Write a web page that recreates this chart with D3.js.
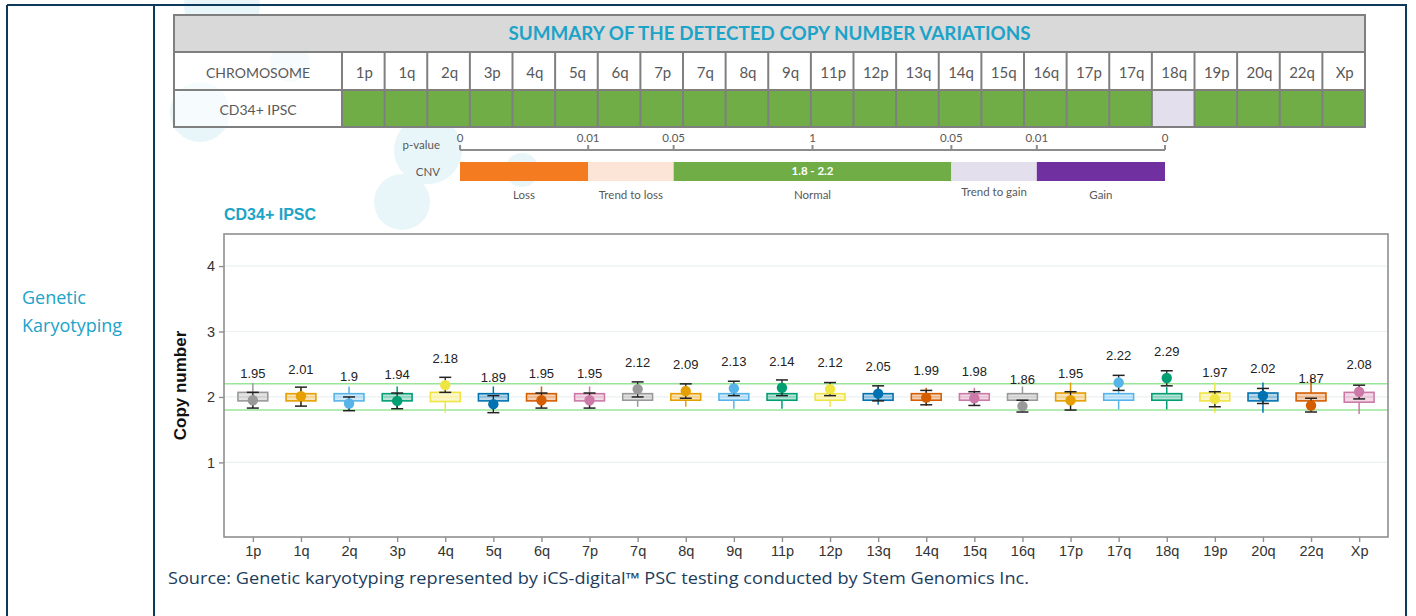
<!DOCTYPE html>
<html><head><meta charset="utf-8">
<script src="https://cdn.jsdelivr.net/npm/d3@7"></script>
<style>body{margin:0;background:#fff;} svg{display:block;}</style>
</head><body><svg id="c" width="1416" height="616"></svg>
<script>
// ---------- DATA ----------
const categories = ["1p","1q","2q","3p","4q","5q","6q","7p","7q","8q","9q","11p","12p","13q","14q","15q","16q","17p","17q","18q","19p","20q","22q","Xp"];
const copyNumber = [1.95,2.01,1.9,1.94,2.18,1.89,1.95,1.95,2.12,2.09,2.13,2.14,2.12,2.05,1.99,1.98,1.86,1.95,2.22,2.29,1.97,2.02,1.87,2.08];
const errLow  = [1.83,1.86,1.79,1.82,2.07,1.76,1.83,1.83,2.00,1.98,2.02,2.02,2.02,1.94,1.88,1.87,1.77,1.80,2.10,2.17,1.85,1.90,1.77,1.97];
const errHigh = [2.07,2.15,2.00,2.06,2.30,2.02,2.06,2.06,2.23,2.20,2.24,2.26,2.22,2.17,2.10,2.08,1.95,2.08,2.33,2.40,2.08,2.13,1.98,2.18];
const boxQ1   = [1.94,1.94,1.94,1.94,1.93,1.94,1.94,1.94,1.95,1.95,1.95,1.95,1.95,1.95,1.95,1.95,1.95,1.94,1.95,1.95,1.94,1.94,1.94,1.92];
const boxMed  = [2.0,2.0,2.0,2.0,2.0,2.0,2.0,2.0,2.0,2.0,2.0,2.0,2.0,2.0,2.0,2.0,2.0,2.0,2.0,2.0,2.0,2.0,2.0,2.0];
const boxQ3   = [2.07,2.05,2.05,2.05,2.07,2.05,2.05,2.05,2.05,2.05,2.05,2.05,2.05,2.05,2.05,2.05,2.05,2.06,2.05,2.05,2.06,2.06,2.06,2.07];
const whiskerLow  = [1.83,1.86,1.80,1.82,1.76,1.80,1.83,1.83,1.85,1.85,1.82,1.82,1.85,1.88,1.86,1.86,1.86,1.80,1.81,1.81,1.76,1.76,1.80,1.74];
const whiskerHigh = [2.21,2.15,2.16,2.16,2.16,2.16,2.16,2.16,2.20,2.15,2.15,2.15,2.15,2.15,2.14,2.14,2.16,2.22,2.15,2.15,2.22,2.22,2.30,2.16];
const cnvStatus = ["Normal","Normal","Normal","Normal","Normal","Normal","Normal","Normal","Normal","Normal","Normal","Normal","Normal","Normal","Normal","Normal","Normal","Normal","Normal","Trend to gain","Normal","Normal","Normal","Normal"];
const yTicks = [1,2,3,4];
const normalRange = [1.8, 2.2];
const pvalueTicks = ["0","0.01","0.05","1","0.05","0.01","0"];
const cnvClasses = ["Loss","Trend to loss","Normal","Trend to gain","Gain"];
const cnvColors  = ["#f47b20","#fce4d6","#70ad47","#e4dfec","#7030a0"];
const cnvWeights = [3,2,6.5,2,3];
const palette = ["#999999","#E69F00","#56B4E9","#009E73","#F0E442","#0072B2","#D55E00","#CC79A7"];
const sampleName = "CD34+ IPSC";

// ---------- DRAW ----------
const svg = d3.select("#c");
const teal = "#1ca3c8", navy = "#0d3a5a";
const chartFont = "'Liberation Sans', Arial, sans-serif";
const tblFont = "Lato, 'Open Sans', sans-serif";

// decorative background circles
const deco = [[222,6,38],[200,112,30],[428,150,34],[522,170,17],[402,202,28],[290,62,20]];
svg.append("g").selectAll("circle").data(deco).join("circle")
  .attr("cx",d=>d[0]).attr("cy",d=>d[1]).attr("r",d=>d[2]).attr("fill","#e9f6f9");

// outer frame
const frame = svg.append("g").attr("stroke",navy).attr("stroke-width",2).attr("fill","none");
frame.append("line").attr("x1",7).attr("x2",1407).attr("y1",5).attr("y2",5);
frame.append("line").attr("x1",7).attr("x2",7).attr("y1",5).attr("y2",616);
frame.append("line").attr("x1",154).attr("x2",154).attr("y1",5).attr("y2",616);
frame.append("line").attr("x1",1406).attr("x2",1406).attr("y1",5).attr("y2",616);

svg.append("text").attr("x",22).attr("y",304).attr("fill",teal)
  .style("font-family","'Open Sans', sans-serif").style("font-size","18px").text("Genetic");
svg.append("text").attr("x",22).attr("y",332).attr("fill",teal)
  .style("font-family","'Open Sans', sans-serif").style("font-size","18px").text("Karyotyping");

// ---------- summary table ----------
const T = {x0:174, x1:1365, lab:342, r0:15, r1:52, r2:90, r3:127};
const tb = svg.append("g");
tb.append("rect").attr("x",T.x0).attr("y",T.r0).attr("width",T.x1-T.x0).attr("height",T.r1-T.r0).attr("fill","#d9d9d9");
tb.append("rect").attr("x",T.x0).attr("y",T.r1).attr("width",T.lab-T.x0).attr("height",T.r3-T.r1).attr("fill","#fff").attr("fill-opacity",0.6);
const xb = d3.scaleBand().domain(categories).range([T.lab,T.x1]);
const statusColor = d3.scaleOrdinal().domain(cnvClasses).range(cnvColors);
tb.selectAll("rect.h").data(categories).join("rect").attr("class","h")
  .attr("x",d=>xb(d)).attr("y",T.r1).attr("width",xb.bandwidth()).attr("height",T.r2-T.r1).attr("fill","#fff");
tb.selectAll("rect.s").data(categories).join("rect").attr("class","s")
  .attr("x",d=>xb(d)).attr("y",T.r2).attr("width",xb.bandwidth()).attr("height",T.r3-T.r2)
  .attr("fill",(d,i)=>statusColor(cnvStatus[i]));
const gl = tb.append("g").attr("stroke","#7f7f7f").attr("stroke-width",2);
gl.append("rect").attr("x",T.x0).attr("y",T.r0).attr("width",T.x1-T.x0).attr("height",T.r3-T.r0).attr("fill","none");
[T.r1,T.r2].forEach(y=>gl.append("line").attr("x1",T.x0).attr("x2",T.x1).attr("y1",y).attr("y2",y));
gl.append("line").attr("x1",T.lab).attr("x2",T.lab).attr("y1",T.r1).attr("y2",T.r3);
categories.slice(1).forEach(c=>gl.append("line").attr("x1",xb(c)).attr("x2",xb(c)).attr("y1",T.r1).attr("y2",T.r3));
tb.append("text").attr("x",(T.x0+T.x1)/2).attr("y",40).attr("text-anchor","middle").attr("fill",teal)
  .attr("textLength",522).attr("lengthAdjust","spacingAndGlyphs")
  .style("font-family",tblFont).style("font-weight","bold").style("font-size","18px")
  .text("SUMMARY OF THE DETECTED COPY NUMBER VARIATIONS");
tb.append("text").attr("x",(T.x0+T.lab)/2).attr("y",78).attr("text-anchor","middle").attr("fill","#595959")
  .style("font-family",tblFont).style("font-size","14px").text("CHROMOSOME");
tb.append("text").attr("x",(T.x0+T.lab)/2).attr("y",115).attr("text-anchor","middle").attr("fill","#595959")
  .style("font-family",tblFont).style("font-size","14px").text(sampleName);
tb.selectAll("text.c").data(categories).join("text").attr("class","c")
  .attr("x",d=>xb(d)+xb.bandwidth()/2+1).attr("y",78).attr("text-anchor","middle").attr("fill","#595959")
  .style("font-family",tblFont).style("font-size","15px").text(d=>d);

// ---------- p-value / CNV legend ----------
const L = {x0:460, x1:1165, axisY:150, barY:162, barH:19};
const cum = [0]; cnvWeights.forEach((w,i)=>cum.push(cum[i]+w));
const lx = d3.scaleLinear().domain([0,cum[cum.length-1]]).range([L.x0,L.x1]);
const tickPos = [cum[0],cum[1],cum[2],(cum[2]+cum[3])/2,cum[3],cum[4],cum[5]];
const lg = svg.append("g").style("font-family",tblFont);
lg.append("line").attr("x1",L.x0).attr("x2",L.x1).attr("y1",L.axisY).attr("y2",L.axisY).attr("stroke","#8c8c8c").attr("stroke-width",2);
lg.selectAll("line.t").data(tickPos).join("line").attr("class","t")
  .attr("x1",d=>lx(d)).attr("x2",d=>lx(d)).attr("y1",L.axisY-5).attr("y2",L.axisY).attr("stroke","#8c8c8c").attr("stroke-width",2);
lg.selectAll("text.t").data(tickPos).join("text").attr("class","t")
  .attr("x",d=>lx(d)).attr("y",L.axisY-8).attr("text-anchor","middle").attr("fill","#595959").style("font-size","11.5px")
  .text((d,i)=>pvalueTicks[i]);
lg.selectAll("rect").data(cnvClasses).join("rect")
  .attr("x",(d,i)=>lx(cum[i])).attr("width",(d,i)=>lx(cum[i+1])-lx(cum[i]))
  .attr("y",L.barY).attr("height",L.barH).attr("fill",(d,i)=>cnvColors[i]);
lg.selectAll("text.l").data(cnvClasses).join("text").attr("class","l")
  .attr("x",(d,i)=>lx((cum[i]+cum[i+1])/2)).attr("y",(d,i)=>i===3?196:199).attr("text-anchor","middle")
  .attr("fill","#595959").style("font-size","11.5px").text(d=>d);
lg.append("text").attr("x",lx((cum[2]+cum[3])/2)).attr("y",L.barY+13).attr("text-anchor","middle")
  .attr("fill","#fff").style("font-size","11.5px").style("font-weight","bold").text(normalRange[0]+" - "+normalRange[1]);
lg.append("text").attr("x",440).attr("y",149).attr("text-anchor","end").attr("fill","#595959").style("font-size","11.5px").text("p-value");
lg.append("text").attr("x",440).attr("y",176).attr("text-anchor","end").attr("fill","#595959").style("font-size","11.5px").text("CNV");

// ---------- box plot chart ----------
const P = {l:224, r:1388, t:234, b:537};
const x = d3.scalePoint().domain(categories).range([P.l,P.r]).padding(0.6);
const y = d3.scaleLinear().domain([-0.14,4.49]).range([P.b,P.t]);
const col = (i)=>palette[i % palette.length];
const ch = svg.append("g").style("font-family",chartFont);

ch.append("text").attr("x",P.l).attr("y",220).attr("fill",teal).style("font-size","16px").style("font-weight","bold").text(sampleName);

ch.selectAll("line.grid").data(yTicks).join("line").attr("class","grid")
  .attr("x1",P.l).attr("x2",P.r).attr("y1",d=>y(d)).attr("y2",d=>y(d)).attr("stroke","#ebf1f2").attr("stroke-width",1.2);
ch.selectAll("line.nr").data(normalRange).join("line").attr("class","nr")
  .attr("x1",P.l).attr("x2",P.r).attr("y1",d=>y(d)).attr("y2",d=>y(d)).attr("stroke","#98e698").attr("stroke-width",1.5);

const bw = x.step()*0.62;
const items = categories.map((c,i)=>({c,i}));
const g = ch.selectAll("g.item").data(items).join("g").attr("class","item");
g.append("line").attr("x1",d=>x(d.c)).attr("x2",d=>x(d.c)).attr("y1",d=>y(whiskerLow[d.i])).attr("y2",d=>y(whiskerHigh[d.i]))
  .attr("stroke",d=>col(d.i)).attr("stroke-width",1.5);
g.append("rect").attr("x",d=>x(d.c)-bw/2).attr("width",bw).attr("y",d=>y(boxQ3[d.i])).attr("height",d=>y(boxQ1[d.i])-y(boxQ3[d.i]))
  .attr("fill",d=>d3.interpolateRgb(col(d.i),"#fff")(0.72)).attr("stroke",d=>col(d.i)).attr("stroke-width",1.6);
g.append("line").attr("x1",d=>x(d.c)-bw/2+1).attr("x2",d=>x(d.c)+bw/2-1).attr("y1",d=>y(boxMed[d.i])).attr("y2",d=>y(boxMed[d.i]))
  .attr("stroke",d=>d3.interpolateRgb(col(d.i),"#fff")(0.45)).attr("stroke-width",1.2);
const cw = 6;
g.append("line").attr("x1",d=>x(d.c)).attr("x2",d=>x(d.c)).attr("y1",d=>y(errLow[d.i])).attr("y2",d=>y(errHigh[d.i])).attr("stroke","#222").attr("stroke-width",1.3);
g.append("line").attr("x1",d=>x(d.c)-cw).attr("x2",d=>x(d.c)+cw).attr("y1",d=>y(errLow[d.i])).attr("y2",d=>y(errLow[d.i])).attr("stroke","#222").attr("stroke-width",1.5);
g.append("line").attr("x1",d=>x(d.c)-cw).attr("x2",d=>x(d.c)+cw).attr("y1",d=>y(errHigh[d.i])).attr("y2",d=>y(errHigh[d.i])).attr("stroke","#222").attr("stroke-width",1.5);
g.append("circle").attr("cx",d=>x(d.c)).attr("cy",d=>y(copyNumber[d.i])).attr("r",5.2).attr("fill",d=>col(d.i));
g.append("text").attr("x",d=>x(d.c)).attr("y",d=>y(copyNumber[d.i]+0.41)).attr("dy","0.35em").attr("text-anchor","middle")
  .attr("fill","#222").style("font-size","13px").text(d=>String(copyNumber[d.i]));

ch.append("rect").attr("x",P.l).attr("y",P.t).attr("width",P.r-P.l).attr("height",P.b-P.t).attr("fill","none").attr("stroke","#8f8f8f").attr("stroke-width",1.6);

const xa = ch.append("g").attr("transform",`translate(0,${P.b})`).call(d3.axisBottom(x).tickSize(5).tickPadding(4));
const ya = ch.append("g").attr("transform",`translate(${P.l},0)`).call(d3.axisLeft(y).tickValues(yTicks).tickFormat(d3.format("d")).tickSize(5).tickPadding(4));
[xa,ya].forEach(a=>{
  a.select(".domain").remove();
  a.selectAll(".tick line").attr("stroke","#8f8f8f").attr("stroke-width",1.4);
  a.selectAll(".tick text").attr("fill","#333").style("font-size","14.5px").style("font-family",chartFont);
});
ch.append("text").attr("transform",`translate(186,${(P.t+P.b)/2}) rotate(-90)`).attr("text-anchor","middle")
  .attr("fill","#111").style("font-size","17px").style("font-weight","bold").text("Copy number");

svg.append("text").attr("x",168).attr("y",584).attr("fill","#1b3d5c")
  .attr("textLength",861).attr("lengthAdjust","spacingAndGlyphs")
  .style("font-family","'Open Sans', sans-serif").style("font-size","15.5px")
  .text("Source: Genetic karyotyping represented by iCS-digital™ PSC testing conducted by Stem Genomics Inc.");
</script></body></html>
